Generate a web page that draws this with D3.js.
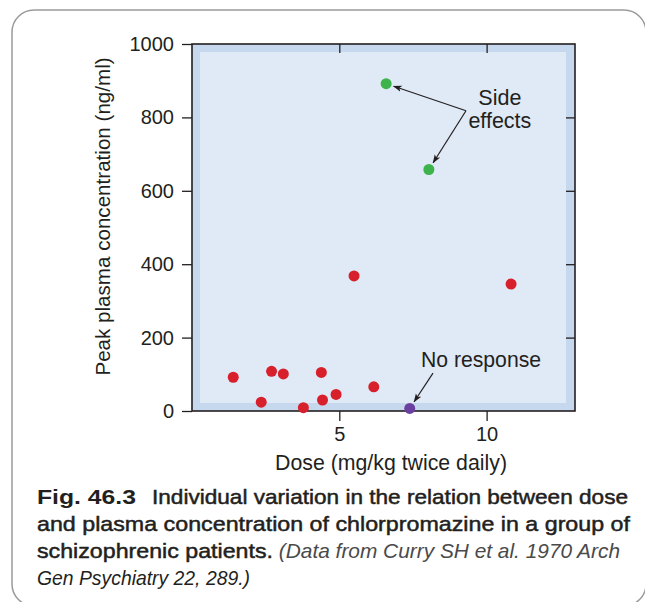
<!DOCTYPE html>
<html>
<head>
<meta charset="utf-8">
<script src="https://cdn.jsdelivr.net/npm/d3@7"></script>
<style>
    body { margin: 0; background: #fff; }
    #chart { width: 645px; height: 602px; }
    text { font-family: "Liberation Sans", Arial, sans-serif; fill: #231f20; }
</style>
</head>
<body>
<div id="chart"></div>
<script>

// Dose (mg/kg twice daily) and peak plasma concentration (ng/ml), one entry per patient
const doses = [1.40, 2.35, 2.70, 3.10, 3.78, 4.39, 4.43, 4.89, 5.50, 6.17, 10.83, 6.59, 8.04, 7.39];
const concentrations = [92, 24, 108, 101, 9, 105, 30, 45, 368, 66, 346, 892, 658, 7];
const outcomes = ["resp", "resp", "resp", "resp", "resp", "resp", "resp", "resp", "resp", "resp", "resp",
    "side", "side", "none"];

const xTicks = [5, 10];
const yTicks = [0, 200, 400, 600, 800, 1000];

class DoseVis {

    constructor(parentElement) {
        this.parentElement = parentElement;
        this.data = doses.map((d, i) => ({dose: d, conc: concentrations[i], outcome: outcomes[i]}));
        this.colors = {resp: "#d7202b", side: "#3cb44b", none: "#6b3fa0"};

        this.initVis();
    }

    initVis() {
        let vis = this;

        vis.margin = {top: 44, right: 70, bottom: 191, left: 192};
        vis.width = 645 - vis.margin.left - vis.margin.right;
        vis.height = 602 - vis.margin.top - vis.margin.bottom;

        vis.root = d3.select("#" + vis.parentElement).append("svg")
            .attr("width", 645)
            .attr("height", 602);

        // rounded panel outline
        vis.root.append("rect")
            .attr("x", 12).attr("y", 10)
            .attr("width", 634).attr("height", 596)
            .attr("rx", 22)
            .attr("fill", "none")
            .attr("stroke", "#9b9b9b")
            .attr("stroke-width", 1.5);

        vis.svg = vis.root.append("g")
            .attr("transform", `translate(${vis.margin.left}, ${vis.margin.top})`);

        vis.x = d3.scaleLinear().domain([0, 13]).range([0, vis.width]);
        vis.y = d3.scaleLinear().domain([0, 1000]).range([vis.height, 0]);

        // background bands
        vis.svg.append("rect")
            .attr("width", vis.width).attr("height", vis.height)
            .attr("fill", "#c6d8ee");
        vis.svg.append("rect")
            .attr("x", 8).attr("y", 8)
            .attr("width", vis.width - 17).attr("height", vis.height - 16)
            .attr("fill", "#e0e9f6");

        // axes
        vis.svg.append("g")
            .attr("class", "y-axis")
            .call(d3.axisLeft(vis.y).tickValues(yTicks).tickFormat(d3.format("d")).tickSize(10).tickPadding(8));
        vis.svg.append("g")
            .attr("class", "y-axis-right")
            .attr("transform", `translate(${vis.width}, 0)`)
            .call(d3.axisLeft(vis.y).tickValues(yTicks.slice(1, -1)).tickSize(9).tickFormat(""));
        vis.svg.append("g")
            .attr("class", "x-axis")
            .attr("transform", `translate(0, ${vis.height})`)
            .call(d3.axisBottom(vis.x).tickValues(xTicks).tickSize(10).tickPadding(6));
        vis.svg.append("g")
            .attr("class", "x-axis-top")
            .call(d3.axisBottom(vis.x).tickValues(xTicks).tickSize(9).tickFormat(""));

        vis.svg.selectAll(".domain").remove();
        vis.svg.selectAll(".tick line").attr("stroke", "#231f20").attr("stroke-width", 1.3);
        vis.svg.selectAll(".tick text")
            .attr("font-family", "Liberation Sans, Arial, sans-serif")
            .attr("font-size", 20)
            .attr("fill", "#231f20");

        // frame
        vis.svg.append("rect")
            .attr("width", vis.width).attr("height", vis.height)
            .attr("fill", "none")
            .attr("stroke", "#231f20")
            .attr("stroke-width", 1.6);

        // axis titles
        vis.svg.append("text")
            .attr("transform", `translate(-82, ${vis.height / 2 - 11}) rotate(-90)`)
            .attr("text-anchor", "middle")
            .attr("font-size", 20.6)
            .text("Peak plasma concentration (ng/ml)");
        vis.svg.append("text")
            .attr("x", 199).attr("y", vis.height + 59)
            .attr("text-anchor", "middle")
            .attr("font-size", 21.3)
            .text("Dose (mg/kg twice daily)");

        // arrow marker
        vis.root.append("defs").append("marker")
            .attr("id", "arrow")
            .attr("viewBox", "0 0 10 10")
            .attr("refX", 9).attr("refY", 5)
            .attr("markerWidth", 9).attr("markerHeight", 9)
            .attr("markerUnits", "userSpaceOnUse")
            .attr("orient", "auto")
            .append("path")
            .attr("d", "M0,1.5 L10,5 L0,8.5 L2.5,5 Z")
            .attr("fill", "#231f20");

        // annotations
        let side = vis.data.filter(d => d.outcome === "side");
        let none = vis.data.filter(d => d.outcome === "none");
        let jx = vis.x(9.3), jy = vis.y(818);
        side.forEach(d => {
            let px = vis.x(d.dose), py = vis.y(d.conc);
            let ang = Math.atan2(py - jy, px - jx);
            vis.svg.append("line")
                .attr("x1", jx).attr("y1", jy)
                .attr("x2", px - Math.cos(ang) * 8).attr("y2", py - Math.sin(ang) * 8)
                .attr("stroke", "#231f20").attr("stroke-width", 1.2)
                .attr("marker-end", "url(#arrow)");
        });
        let label = vis.svg.append("text")
            .attr("x", vis.x(10.45)).attr("y", vis.y(833))
            .attr("text-anchor", "middle")
            .attr("font-size", 21.5);
        label.append("tspan").attr("x", vis.x(10.45)).text("Side");
        label.append("tspan").attr("x", vis.x(10.45)).attr("dy", 23).text("effects");

        none.forEach(d => {
            let px = vis.x(d.dose), py = vis.y(d.conc);
            let sx = vis.x(8.18), sy = vis.y(103);
            let ang = Math.atan2(py - sy, px - sx);
            vis.svg.append("line")
                .attr("x1", sx).attr("y1", sy)
                .attr("x2", px - Math.cos(ang) * 8).attr("y2", py - Math.sin(ang) * 8)
                .attr("stroke", "#231f20").attr("stroke-width", 1.2)
                .attr("marker-end", "url(#arrow)");
        });
        vis.svg.append("text")
            .attr("x", vis.x(7.77)).attr("y", vis.y(120))
            .attr("font-size", 21.2)
            .text("No response");

        // points
        vis.svg.selectAll("circle").data(vis.data)
            .enter()
            .append("circle")
            .attr("cx", d => vis.x(d.dose))
            .attr("cy", d => vis.y(d.conc))
            .attr("r", 5.5)
            .attr("fill", d => vis.colors[d.outcome]);

        // caption
        let cap = vis.root.append("g").attr("font-size", 21);
        let l1 = cap.append("text").attr("x", 37).attr("y", 504);
        l1.append("tspan").attr("font-weight", "bold")
            .attr("textLength", 99).attr("lengthAdjust", "spacingAndGlyphs")
            .text("Fig. 46.3");
        l1.append("tspan").attr("x", 152).attr("class", "semi")
            .attr("textLength", 476).attr("lengthAdjust", "spacingAndGlyphs")
            .text("Individual variation in the relation between dose");
        cap.append("text").attr("x", 37).attr("y", 531).attr("class", "semi")
            .attr("textLength", 593).attr("lengthAdjust", "spacingAndGlyphs")
            .text("and plasma concentration of chlorpromazine in a group of");
        let l3 = cap.append("text").attr("x", 37).attr("y", 558);
        l3.append("tspan").attr("class", "semi")
            .attr("textLength", 236).attr("lengthAdjust", "spacingAndGlyphs")
            .text("schizophrenic patients.");
        l3.append("tspan").attr("class", "ital")
            .attr("textLength", 347).attr("lengthAdjust", "spacingAndGlyphs")
            .text(" (Data from Curry SH et al. 1970 Arch");
        cap.append("text").attr("x", 37).attr("y", 585).attr("class", "ital")
            .attr("textLength", 213).attr("lengthAdjust", "spacingAndGlyphs")
            .text("Gen Psychiatry 22, 289.)");

        cap.selectAll(".semi").attr("stroke", "#231f20").attr("stroke-width", 0.5);
        cap.selectAll(".ital").attr("font-style", "italic").attr("fill", "#4a4a4a");
    }
}

new DoseVis("chart");
</script>
</body>
</html>
